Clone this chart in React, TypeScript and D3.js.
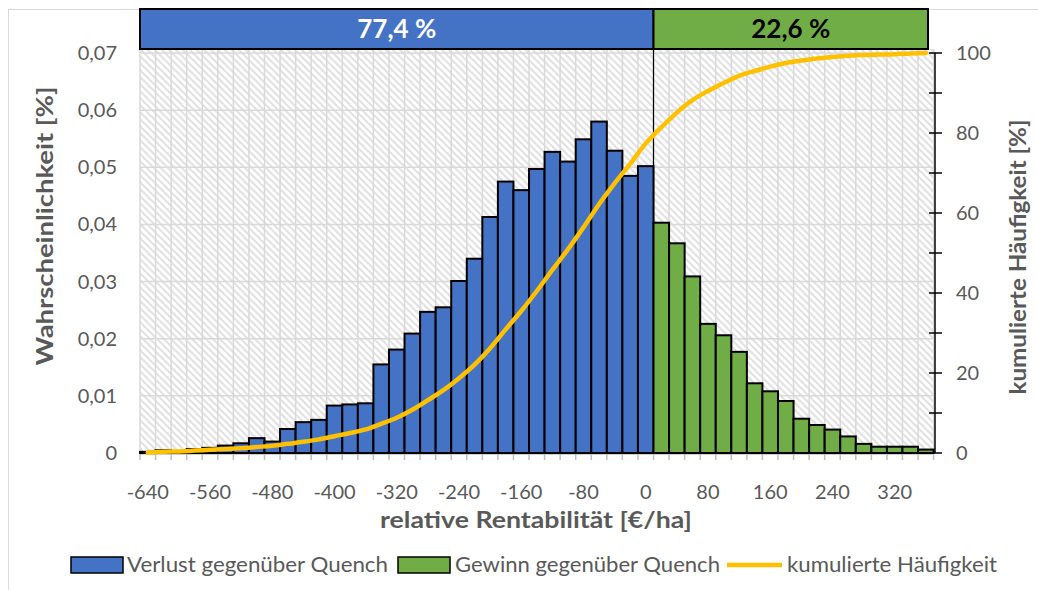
import React from "react";
import * as d3 from "d3";

const categories: number[] = [
  -640, -620, -600, -580, -560, -540, -520, -500, -480, -460, -440, -420, -400,
  -380, -360, -340, -320, -300, -280, -260, -240, -220, -200, -180, -160, -140,
  -120, -100, -80, -60, -40, -20, 0, 20, 40, 60, 80, 100, 120, 140, 160, 180,
  200, 220, 240, 260, 280, 300, 320, 340, 360,
];

// Verlust (categories -640 .. 0)
const lossValues: number[] = [
  0.0002, 0.0005, 0.0001, 0.0007, 0.0009, 0.0013, 0.0017, 0.0026, 0.002,
  0.0042, 0.0054, 0.0058, 0.0083, 0.0085, 0.0087, 0.0155, 0.0181, 0.0209,
  0.0247, 0.0255, 0.0301, 0.034, 0.0413, 0.0475, 0.046, 0.0497, 0.0527, 0.051,
  0.0549, 0.058, 0.0529, 0.0485, 0.0502,
];

// Gewinn (categories 20 .. 360)
const gainValues: number[] = [
  0.0403, 0.0367, 0.0309, 0.0226, 0.0206, 0.0177, 0.0122, 0.0108, 0.0091,
  0.006, 0.0049, 0.0041, 0.0029, 0.0016, 0.0011, 0.0011, 0.0011, 0.0006,
];

// kumulierte Häufigkeit [%]
const cumulative: number[] = [
  0.1, 0.3, 0.4, 0.6, 0.8, 1.0, 1.2, 1.5, 1.8, 2.3, 2.8, 3.4, 4.2, 5.0, 5.9,
  7.3, 8.8, 10.8, 13.2, 15.7, 18.7, 22.1, 26.2, 30.9, 35.5, 40.5, 45.8, 50.9,
  56.4, 62.2, 67.4, 72.3, 77.4, 81.4, 85.1, 88.2, 90.5, 92.5, 94.3, 95.5, 96.6,
  97.5, 98.1, 98.6, 99.0, 99.3, 99.5, 99.6, 99.7, 99.9, 100,
];

const xTickLabels: number[] = [
  -640, -560, -480, -400, -320, -240, -160, -80, 0, 80, 160, 240, 320,
];
const yTicks: number[] = [0, 0.01, 0.02, 0.03, 0.04, 0.05, 0.06, 0.07];
const y2Ticks: number[] = [0, 20, 40, 60, 80, 100];
const y2MinorTicks: number[] = [0, 10, 20, 30, 40, 50, 60, 70, 80, 90, 100];
const shareLoss = "77,4 %";
const shareGain = "22,6 %";

const BLUE = "#4472C4";
const GREEN = "#70AD47";
const ORANGE = "#FFC000";
const TEXT = "#595959";
const GRID = "#d9d9d9";
const FONT = "Lato, 'Open Sans', sans-serif";

export default function App() {
  const W = 1038;
  const H = 590;
  const left = 140;
  const right = 933.6;
  const top = 53;
  const bottom = 453;

  const x = d3
    .scaleBand<string>()
    .domain(categories.map(String))
    .range([left, right])
    .padding(0);
  const bw = x.bandwidth();
  const y = d3.scaleLinear().domain([0, 0.07]).range([bottom, top]);
  const y2 = d3.scaleLinear().domain([0, 100]).range([bottom, top]);

  const bars = categories.map((c, i) => {
    const isLoss = i < lossValues.length;
    const v = isLoss ? lossValues[i] : gainValues[i - lossValues.length];
    return { c, v, isLoss };
  });

  const line = d3
    .line<number>()
    .x((_, i) => (x(String(categories[i])) as number) + bw / 2)
    .y((d) => y2(d))
    .curve(d3.curveCardinal.tension(0));

  const splitX = x(String(categories[lossValues.length])) as number;
  const boxRight = 928;
  const fmt = (v: number) => (v === 0 ? "0" : v.toFixed(2).replace(".", ","));

  const boundaries = categories.map((c) => x(String(c)) as number).concat([right]);

  return (
    <svg
      width={W}
      height={H}
      style={{ position: "absolute", left: 0, top: 0, background: "#fff" }}
      fontFamily={FONT}
    >
      <defs>
        <pattern id="hatch" width="7" height="7" patternUnits="userSpaceOnUse">
          <rect width="7" height="7" fill="#ffffff" />
          <path d="M-1,-1 L8,8 M-1,6 L1,8 M6,-1 L8,1" stroke="#e2e2e2" strokeWidth="2" />
        </pattern>
      </defs>
      <rect x={8.5} y={9.5} width={1040} height={590} fill="none" stroke={GRID} strokeWidth={1} />

      {/* plot background */}
      <rect x={left} y={49} width={right - left} height={bottom - 49} fill="url(#hatch)" />

      {/* gridlines */}
      {yTicks.map((t) => (
        <line key={"h" + t} x1={left} x2={right} y1={y(t)} y2={y(t)} stroke={GRID} strokeWidth={1.5} />
      ))}
      {boundaries.map((b, i) => (
        <line key={"v" + i} x1={b} x2={b} y1={49} y2={bottom} stroke={GRID} strokeWidth={1.5} />
      ))}

      {/* split line */}
      <line x1={splitX} x2={splitX} y1={49} y2={bottom} stroke="#000" strokeWidth={1.2} />

      {/* x axis */}
      <line x1={left} x2={right} y1={bottom + 1} y2={bottom + 1} stroke="#bfbfbf" strokeWidth={1.5} />
      {boundaries.map((b, i) => (
        <line key={"xt" + i} x1={b} x2={b} y1={bottom + 1} y2={bottom + 7} stroke="#bfbfbf" strokeWidth={1.5} />
      ))}

      {/* bars */}
      {bars.map((d) => (
        <rect
          key={d.c}
          x={x(String(d.c))}
          y={y(d.v)}
          width={bw}
          height={bottom - y(d.v)}
          fill={d.isLoss ? BLUE : GREEN}
          stroke="#000"
          strokeWidth={2}
        />
      ))}

      {/* cumulative line */}
      <path d={line(cumulative) || ""} fill="none" stroke={ORANGE} strokeWidth={4.5} strokeLinecap="round" />

      {/* right axis */}
      <line x1={935} x2={935} y1={top} y2={bottom} stroke="#000" strokeWidth={1.5} />
      {y2MinorTicks.map((t) => (
        <line key={"rt" + t} x1={929} x2={942} y1={y2(t)} y2={y2(t)} stroke="#000" strokeWidth={1.5} />
      ))}
      {y2Ticks.map((t) => (
        <text key={"rl" + t} x={956} y={y2(t)} dy="0.35em" fontSize={20} fill={TEXT}>
          {t}
        </text>
      ))}

      {/* left axis labels */}
      {yTicks.map((t) => (
        <text key={"ll" + t} x={117} y={y(t)} dy="0.35em" fontSize={20} fill={TEXT} textAnchor="end">
          {fmt(t)}
        </text>
      ))}

      {/* x labels */}
      {xTickLabels.map((t) => (
        <text
          key={"xl" + t}
          x={(x(String(t)) as number) + bw / 2}
          y={499}
          fontSize={20}
          fill={TEXT}
          textAnchor="middle"
        >
          {t}
        </text>
      ))}

      {/* axis titles */}
      <text
        x={536}
        y={528}
        fontSize={22}
        fontWeight="bold"
        fill={TEXT}
        textAnchor="middle"
        textLength={312}
        lengthAdjust="spacingAndGlyphs"
      >
        relative Rentabilität [€/ha]
      </text>
      <text
        transform="translate(53,226) rotate(-90)"
        fontSize={22}
        fontWeight="bold"
        fill={TEXT}
        textAnchor="middle"
        textLength={279}
        lengthAdjust="spacingAndGlyphs"
      >
        Wahrscheinlichkeit [%]
      </text>
      <text
        transform="translate(1026,257) rotate(-90)"
        fontSize={22}
        fontWeight="bold"
        fill={TEXT}
        textAnchor="middle"
        textLength={275}
        lengthAdjust="spacingAndGlyphs"
      >
        kumulierte Häufigkeit [%]
      </text>

      {/* top share boxes */}
      <rect x={left} y={9} width={splitX - left} height={40} fill={BLUE} stroke="#000" strokeWidth={2} />
      <rect x={splitX} y={9} width={boxRight - splitX} height={40} fill={GREEN} stroke="#000" strokeWidth={2} />
      <text x={(left + splitX) / 2} y={29} dy="0.36em" fontSize={26} fontWeight="bold" fill="#fff" textAnchor="middle">
        {shareLoss}
      </text>
      <text x={(splitX + boxRight) / 2} y={29} dy="0.36em" fontSize={26} fontWeight="bold" fill="#000" textAnchor="middle">
        {shareGain}
      </text>

      {/* legend */}
      <rect x={71} y={557} width={52} height={16} fill={BLUE} stroke="#000" strokeWidth={1.5} />
      <text x={127} y={565} dy="0.35em" fontSize={21} fill={TEXT} textLength={261} lengthAdjust="spacingAndGlyphs">
        Verlust gegenüber Quench
      </text>
      <rect x={398} y={557} width={52} height={16} fill={GREEN} stroke="#000" strokeWidth={1.5} />
      <text x={455} y={565} dy="0.35em" fontSize={21} fill={TEXT} textLength={265} lengthAdjust="spacingAndGlyphs">
        Gewinn gegenüber Quench
      </text>
      <line x1={727} x2={782} y1={565} y2={565} stroke={ORANGE} strokeWidth={4.5} />
      <text x={787} y={565} dy="0.35em" fontSize={21} fill={TEXT} textLength={210} lengthAdjust="spacingAndGlyphs">
        kumulierte Häufigkeit
      </text>
    </svg>
  );
}
